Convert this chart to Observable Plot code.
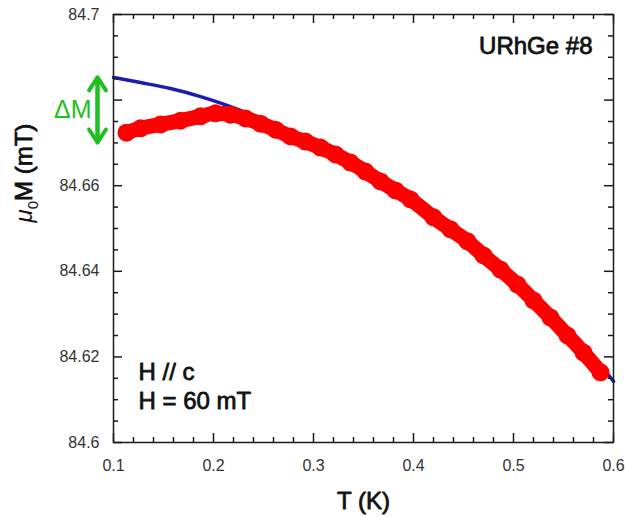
<!DOCTYPE html>
<html>
<head>
<meta charset="utf-8">
<script src="https://cdn.jsdelivr.net/npm/d3@7"></script>
<script src="https://cdn.jsdelivr.net/npm/@observablehq/plot@0.6"></script>
<style>
  html, body { margin: 0; padding: 0; background: #ffffff; }
  #chart svg { display: block; }
</style>
</head>
<body>
<div id="chart"></div>
<script>
// ---- data ----
// red: measured magnetization (thick band of markers)
const redT = [0.113, 0.127, 0.147, 0.167, 0.187, 0.202, 0.217, 0.232, 0.247, 0.262, 0.277, 0.292,
              0.307, 0.322, 0.337, 0.352, 0.367, 0.382, 0.397, 0.420, 0.437, 0.454, 0.470, 0.487,
              0.504, 0.520, 0.537, 0.554, 0.570, 0.587];
const redM = [84.6724, 84.6734, 84.6743, 84.6752, 84.6762, 84.6769, 84.6766, 84.6757, 84.6745, 84.6731,
              84.6715, 84.6703, 84.6689, 84.6673, 84.6654, 84.6633, 84.6610, 84.6589, 84.6568, 84.6526,
              84.6498, 84.6470, 84.6437, 84.6404, 84.6369, 84.6332, 84.6292, 84.6250, 84.6210, 84.6164];
// blue: reference curve
const blueT = [0.100, 0.127, 0.157, 0.187, 0.202, 0.227, 0.257, 0.287, 0.317, 0.347, 0.377, 0.407,
               0.437, 0.467, 0.497, 0.527, 0.557, 0.587, 0.600];
const blueM = [84.6853, 84.6841, 84.6827, 84.6808, 84.6797, 84.6776, 84.6748, 84.6717, 84.6682, 84.6645,
               84.6600, 84.6554, 84.6502, 84.6446, 84.6388, 84.6327, 84.6262, 84.6180, 84.6143];

const xMajorTicks = [0.1, 0.2, 0.3, 0.4, 0.5, 0.6];
const xMinorTicks = [0.12, 0.14, 0.16, 0.18, 0.22, 0.24, 0.26, 0.28, 0.32, 0.34, 0.36, 0.38,
                     0.42, 0.44, 0.46, 0.48, 0.52, 0.54, 0.56, 0.58];
const xTickLabels = ["0.1", "0.2", "0.3", "0.4", "0.5", "0.6"];
const yMajorTicks = [84.6, 84.62, 84.64, 84.66, 84.68, 84.7];
const yMinorTicks = [84.605, 84.61, 84.615, 84.625, 84.63, 84.635, 84.645, 84.65, 84.655,
                     84.665, 84.67, 84.675, 84.685, 84.69, 84.695];
const yLabelTicks = [84.6, 84.62, 84.64, 84.66, 84.7];
const yTickLabels = ["84.6", "84.62", "84.64", "84.66", "84.7"];
const deltaM = [84.6853, 84.6701];   // ends of the green ΔM arrow
const sampleLabel = "URhGe #8";
const fieldLabels = ["H // c", "H = 60 mT"];
const xLabel = "T (K)";
const yLabel = "μ0M (mT)";

// ---- build ----
const W = 625, H = 517;
const mL = 113, mR = 12, mT = 14, mB = 75;
const xDom = [0.1, 0.6], yDom = [84.6, 84.7];
const xPer = (xDom[1] - xDom[0]) / (W - mL - mR);
const yPer = (yDom[1] - yDom[0]) / (H - mT - mB);
const majorLen = 9, minorLen = 5;

const red = redT.map((t, i) => ({t, m: redM[i]}));
const blue = blueT.map((t, i) => ({t, m: blueM[i]}));
const xt = [...xMajorTicks.map(v => ({v, len: majorLen})), ...xMinorTicks.map(v => ({v, len: minorLen}))];
const yt = [...yMajorTicks.map(v => ({v, len: majorLen})), ...yMinorTicks.map(v => ({v, len: minorLen}))];

const font = "'Liberation Sans', Arial, Helvetica, sans-serif";
const axisColor = "#1a1a1a";
const ink = "#111";
// medium-weight look: regular face with a thin outline of the same colour
const medium = {fontSize: 24, fontWeight: "normal", fill: ink, stroke: ink, strokeWidth: 0.8, lineAnchor: "middle"};

const chart = Plot.plot({
  width: W,
  height: H,
  marginLeft: mL, marginRight: mR, marginTop: mT, marginBottom: mB,
  x: {domain: xDom, axis: null},
  y: {domain: yDom, axis: null},
  style: {fontFamily: font, background: "#ffffff", overflow: "visible"},
  marks: [
    // data
    Plot.line(blue, {x: "t", y: "m", stroke: "#1c1cb0", strokeWidth: 3.5, curve: "monotone-x"}),
    Plot.line(red, {x: "t", y: "m", stroke: "#ff0000", strokeWidth: 15, strokeLinecap: "round", strokeLinejoin: "round", curve: "monotone-x"}),
    Plot.dot(red, {x: "t", y: "m", r: 9, fill: "#ff0000", stroke: "none"}),
    // frame and inward ticks on all four sides
    Plot.frame({stroke: axisColor, strokeWidth: 1.5}),
    Plot.ruleX(xt, {x: "v", y1: yDom[0], y2: d => yDom[0] + d.len * yPer, stroke: axisColor, strokeWidth: 1.5}),
    Plot.ruleX(xt, {x: "v", y1: yDom[1], y2: d => yDom[1] - d.len * yPer, stroke: axisColor, strokeWidth: 1.5}),
    Plot.ruleY(yt, {y: "v", x1: xDom[0], x2: d => xDom[0] + d.len * xPer, stroke: axisColor, strokeWidth: 1.5}),
    Plot.ruleY(yt, {y: "v", x1: xDom[1], x2: d => xDom[1] - d.len * xPer, stroke: axisColor, strokeWidth: 1.5}),
    // tick labels
    Plot.text(xMajorTicks, {x: d => d, y: yDom[0], text: (d, i) => xTickLabels[i], dy: 23, fontSize: 16, fill: "#333", lineAnchor: "middle"}),
    Plot.text(yLabelTicks, {x: xDom[0], y: d => d, text: (d, i) => yTickLabels[i], dx: -14, fontSize: 16, fill: "#333", textAnchor: "end", lineAnchor: "middle"}),
    // axis titles
    Plot.text([xLabel], {frameAnchor: "bottom", text: d => d, dy: 59, ...medium}),
    Plot.text([yLabel], {frameAnchor: "left", text: d => d, dx: -89, dy: -6, rotate: -90, ...medium}),
    // annotations
    Plot.text([sampleLabel], {frameAnchor: "top-right", text: d => d, dx: -21, dy: 32, textAnchor: "end", ...medium}),
    Plot.text([fieldLabels[0]], {frameAnchor: "bottom-left", text: d => d, dx: 25, dy: -70, textAnchor: "start", ...medium}),
    Plot.text([fieldLabels[1]], {frameAnchor: "bottom-left", text: d => d, dx: 25, dy: -41, textAnchor: "start", ...medium}),
    Plot.text(["ΔM"], {frameAnchor: "top-left", text: d => d, dx: -22, dy: 95, fontSize: 25, fill: "#1fbf1f", textAnchor: "end", lineAnchor: "middle"}),
    Plot.arrow([deltaM], {x: xDom[0], y1: d => d[1], y2: d => d[0], dx: -16, stroke: "#1fbf1f", strokeWidth: 4, headLength: 5.8, headAngle: 66}),
    Plot.arrow([deltaM], {x: xDom[0], y1: d => d[0], y2: d => d[1], dx: -16, stroke: "#1fbf1f", strokeWidth: 4, headLength: 5.8, headAngle: 66})
  ]
});

// subscript 0 in the y-axis title (μ₀M)
d3.select(chart).selectAll("text").filter(function () { return this.textContent === yLabel; })
  .each(function () {
    const t = d3.select(this);
    t.text(null);
    t.append("tspan").attr("font-style", "italic").attr("stroke-width", "0").text("μ");
    t.append("tspan").attr("font-size", "15").attr("dy", "6").attr("stroke-width", "0").text("0");
    t.append("tspan").attr("dy", "-6").text("M (mT)");
  });

document.getElementById("chart").append(chart);
</script>
</body>
</html>
